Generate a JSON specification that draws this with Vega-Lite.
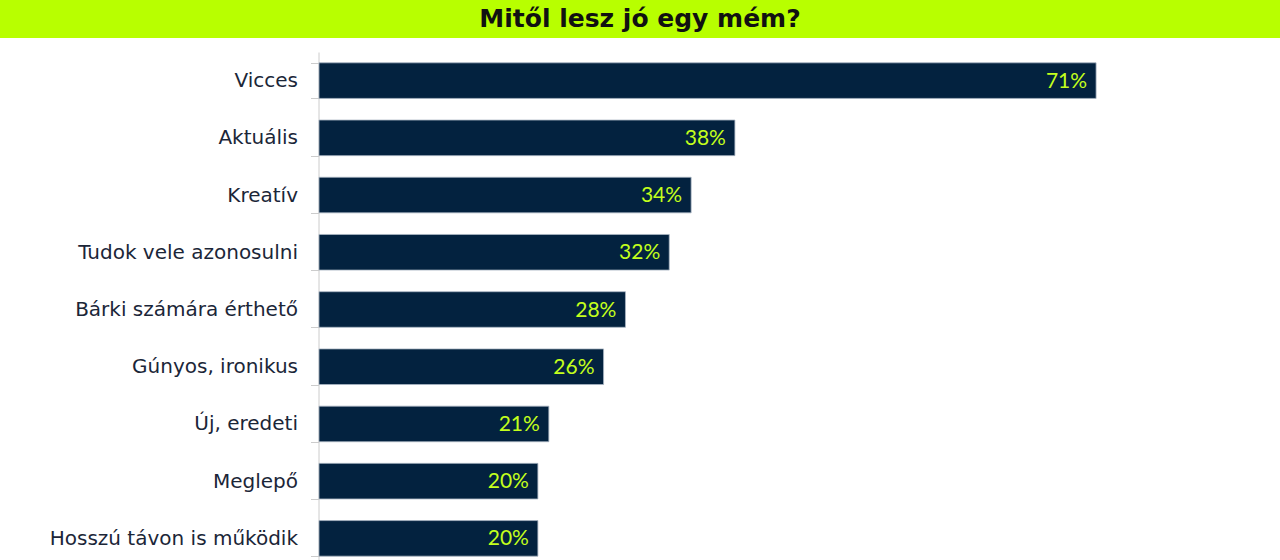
{
  "$schema": "https://vega.github.io/schema/vega-lite/v6.json",
  "background": "white",
  "padding": 0,
  "spacing": 4,
  "config": {
    "view": {"stroke": null},
    "font": "Lato"
  },
  "vconcat": [
    {
      "width": 1280,
      "height": 38,
      "view": {"fill": "#b8ff00", "stroke": null},
      "data": {"values": [{"title": "Mitől lesz jó egy mém?"}]},
      "mark": {
        "type": "text",
        "font": "DejaVu Sans",
        "fontWeight": "bold",
        "fontSize": 25,
        "color": "#111111",
        "baseline": "middle",
        "align": "center"
      },
      "encoding": {"text": {"field": "title"}}
    },
    {
      "width": 1280,
      "height": 515,
      "data": {
        "values": [
          {"reason": "Vicces", "share": 0.71},
          {"reason": "Aktuális", "share": 0.38},
          {"reason": "Kreatív", "share": 0.34},
          {"reason": "Tudok vele azonosulni", "share": 0.32},
          {"reason": "Bárki számára érthető", "share": 0.28},
          {"reason": "Gúnyos, ironikus", "share": 0.26},
          {"reason": "Új, eredeti", "share": 0.21},
          {"reason": "Meglepő", "share": 0.20},
          {"reason": "Hosszú távon is működik", "share": 0.20}
        ]
      },
      "encoding": {
        "y": {
          "field": "reason",
          "type": "nominal",
          "sort": null,
          "title": null,
          "scale": {"paddingInner": 0.378, "paddingOuter": 0.189},
          "axis": {
            "offset": -318.5,
            "tickBand": "extent",
            "domainColor": "#cccccc",
            "tickColor": "#cccccc",
            "tickSize": 8,
            "labelPadding": 13,
            "labelFont": "DejaVu Sans",
            "labelFontSize": 20,
            "labelColor": "#1b2638",
            "labelLimit": 400
          }
        },
        "x": {
          "field": "share",
          "type": "quantitative",
          "scale": {"domain": [-0.29146, 0.87803], "nice": false, "zero": false},
          "axis": null
        }
      },
      "layer": [
        {
          "mark": {"type": "bar", "color": "#03223f", "stroke": "#a9b5c3", "strokeWidth": 0.8}
        },
        {
          "mark": {
            "type": "text",
            "align": "right",
            "baseline": "middle",
            "dx": -9,
            "dy": 1,
            "font": "Lato",
            "fontSize": 21,
            "color": "#c4ff1c"
          },
          "encoding": {"text": {"field": "share", "format": ".0%"}}
        }
      ]
    }
  ]
}
